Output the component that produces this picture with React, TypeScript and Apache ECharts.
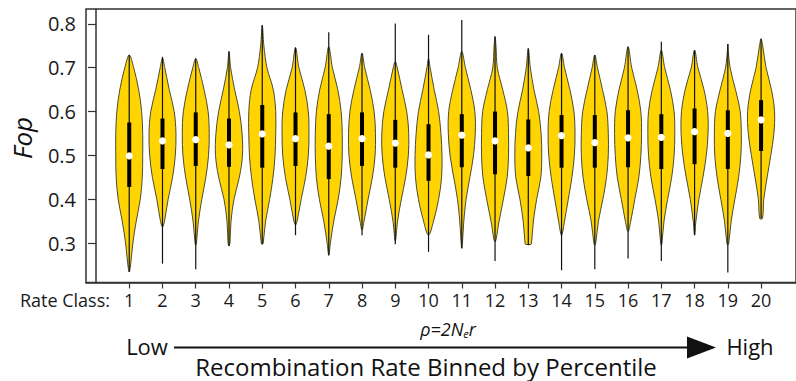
import React, { useEffect, useRef } from "react";
import * as echarts from "echarts";

// ---- data ----
const classes = [1, 2, 3, 4, 5, 6, 7, 8, 9, 10, 11, 12, 13, 14, 15, 16, 17, 18, 19, 20];
const whiskerMax = [0.729, 0.725, 0.721, 0.737, 0.797, 0.746, 0.781, 0.733, 0.801, 0.775, 0.809, 0.771, 0.744, 0.733, 0.729, 0.748, 0.759, 0.740, 0.754, 0.766];
const whiskerMin = [0.234, 0.253, 0.240, 0.293, 0.297, 0.318, 0.272, 0.318, 0.297, 0.280, 0.288, 0.259, 0.295, 0.238, 0.240, 0.265, 0.259, 0.318, 0.233, 0.356];
const shapeTop = [0.729, 0.722, 0.721, 0.737, 0.797, 0.746, 0.748, 0.733, 0.714, 0.721, 0.737, 0.771, 0.744, 0.733, 0.729, 0.748, 0.740, 0.740, 0.754, 0.766];
const shapeBottom = [0.234, 0.337, 0.295, 0.293, 0.297, 0.341, 0.272, 0.330, 0.305, 0.318, 0.288, 0.303, 0.297, 0.318, 0.295, 0.326, 0.295, 0.318, 0.295, 0.356];
const bottomFlat = [0, 0, 0, 0, 0, 0, 0, 0, 0, 0, 0, 0, 0.2, 0, 0, 0, 0, 0, 0, 0.1];
const q3 = [0.575, 0.584, 0.598, 0.584, 0.615, 0.598, 0.594, 0.598, 0.581, 0.571, 0.594, 0.600, 0.582, 0.592, 0.592, 0.603, 0.594, 0.607, 0.603, 0.626];
const q1 = [0.428, 0.469, 0.476, 0.474, 0.472, 0.476, 0.446, 0.476, 0.472, 0.442, 0.473, 0.457, 0.453, 0.472, 0.472, 0.473, 0.469, 0.480, 0.469, 0.510];
const medians = [0.499, 0.533, 0.536, 0.524, 0.549, 0.538, 0.521, 0.538, 0.528, 0.501, 0.546, 0.533, 0.517, 0.545, 0.529, 0.540, 0.541, 0.554, 0.550, 0.581];
// relative density (max = 1) at these Fop levels
const densityLevels = [0.80, 0.75, 0.70, 0.65, 0.60, 0.55, 0.50, 0.45, 0.40, 0.35, 0.30, 0.25];
const density1 = [0, 0, 0.33, 0.7, 0.92, 1, 1, 0.97, 0.82, 0.52, 0.27, 0.1];
const density2 = [0, 0, 0.17, 0.5, 0.87, 1, 0.95, 0.75, 0.42, 0.15, 0, 0];
const density3 = [0, 0, 0.22, 0.62, 0.92, 1, 0.95, 0.75, 0.45, 0.2, 0.05, 0];
const density4 = [0, 0, 0.12, 0.42, 0.77, 0.97, 1, 0.77, 0.37, 0.15, 0.07, 0];
const density5 = [0, 0.12, 0.35, 0.82, 1, 1, 0.95, 0.8, 0.55, 0.25, 0.07, 0];
const density6 = [0, 0, 0.25, 0.69, 0.95, 1, 0.95, 0.75, 0.42, 0.12, 0, 0];
const density7 = [0, 0, 0.27, 0.67, 0.92, 1, 1, 0.92, 0.7, 0.37, 0.12, 0];
const density8 = [0, 0, 0.2, 0.6, 0.9, 1, 0.97, 0.77, 0.45, 0.15, 0, 0];
const density9 = [0, 0, 0.15, 0.5, 0.85, 1, 0.97, 0.77, 0.45, 0.17, 0, 0];
const density10 = [0, 0, 0.12, 0.42, 0.75, 0.92, 1, 0.97, 0.75, 0.37, 0, 0];
const density11 = [0, 0, 0.27, 0.67, 0.97, 1, 0.87, 0.6, 0.32, 0.15, 0.05, 0];
const density12 = [0, 0.07, 0.17, 0.57, 0.92, 1, 1, 0.9, 0.62, 0.3, 0, 0];
const density13 = [0, 0, 0.15, 0.42, 0.77, 0.95, 1, 0.93, 0.62, 0.38, 0.24, 0];
const density14 = [0, 0, 0.22, 0.62, 0.92, 1, 0.95, 0.77, 0.5, 0.22, 0, 0];
const density15 = [0, 0, 0.2, 0.57, 0.9, 1, 1, 0.87, 0.6, 0.27, 0.07, 0];
const density16 = [0, 0, 0.27, 0.67, 0.95, 1, 0.95, 0.8, 0.5, 0.2, 0, 0];
const density17 = [0, 0, 0.25, 0.67, 0.95, 1, 0.95, 0.77, 0.47, 0.2, 0.05, 0];
const density18 = [0, 0, 0.25, 0.7, 0.97, 1, 0.87, 0.62, 0.32, 0.1, 0, 0];
const density19 = [0, 0, 0.17, 0.57, 0.92, 1, 0.97, 0.8, 0.52, 0.25, 0.07, 0];
const density20 = [0, 0.12, 0.37, 0.77, 1, 0.95, 0.72, 0.45, 0.2, 0, 0, 0];
const densities = [density1, density2, density3, density4, density5, density6, density7, density8, density9, density10,
  density11, density12, density13, density14, density15, density16, density17, density18, density19, density20];
const yTicks = [0.3, 0.4, 0.5, 0.6, 0.7, 0.8];

const FONT = "'Open Sans', 'Noto Sans', sans-serif";

export default function App() {
  const ref = useRef<HTMLDivElement>(null);
  useEffect(() => {
    if (!ref.current) return;
    const chart = echarts.init(ref.current, null, { renderer: "svg" });

    const renderItem = (params: any, api: any) => {
      const i = params.dataIndex;
      const c = classes[i];
      const cx = api.coord([c, 0.5])[0];
      const yOf = (v: number) => api.coord([c, v])[1];
      const half = api.size([1, 0])[0] * 0.405;
      const d = densities[i];
      const top = shapeTop[i];
      const bot = shapeBottom[i];
      const right: number[][] = [];
      right.push([cx, yOf(top)]);
      densityLevels.forEach((lv, k) => {
        if (lv < top && lv > bot) right.push([cx + d[k] * half, yOf(lv)]);
      });
      const pts: number[][] = [...right];
      if (bottomFlat[i] > 0) {
        pts.push([cx + bottomFlat[i] * half, yOf(bot)]);
        pts.push([cx - bottomFlat[i] * half, yOf(bot)]);
      } else {
        pts.push([cx, yOf(bot)]);
      }
      for (let k = right.length - 1; k >= 1; k--) {
        pts.push([2 * cx - right[k][0], right[k][1]]);
      }
      const bw = 4;
      return {
        type: "group",
        children: [
          {
            type: "polygon",
            shape: { points: pts, smooth: 0.35 },
            style: { fill: "#FFD400", stroke: "#4a4a3a", lineWidth: 1 },
          },
          {
            type: "line",
            shape: { x1: cx, y1: yOf(whiskerMax[i]), x2: cx, y2: yOf(whiskerMin[i]) },
            style: { stroke: "#111", lineWidth: 1.2 },
          },
          {
            type: "rect",
            shape: { x: cx - bw / 2, y: yOf(q3[i]), width: bw, height: yOf(q1[i]) - yOf(q3[i]) },
            style: { fill: "#000" },
          },
          {
            type: "circle",
            shape: { cx: cx, cy: yOf(medians[i]), r: 3.6 },
            style: { fill: "#fff" },
          },
        ],
      };
    };

    chart.setOption({
      animation: false,
      grid: {
        left: 86, top: 9, right: -2, bottom: 98.5,
        show: true, borderColor: "#333", borderWidth: 1.5, backgroundColor: "transparent",
      },
      xAxis: {
        type: "value", min: -0.3, max: 21.05,
        splitLine: { show: false },
        axisLine: { show: true, lineStyle: { color: "#333", width: 1.5 } },
        axisTick: { show: true, customValues: classes, length: 6, lineStyle: { color: "#333", width: 1.2 } },
        axisLabel: { customValues: classes, margin: 8, fontFamily: FONT, fontSize: 18, color: "#1a1a1a" },
      },
      yAxis: {
        type: "value", min: 0.21, max: 0.834,
        splitLine: { show: false },
        axisLine: { show: true, lineStyle: { color: "#333", width: 1.5 } },
        axisTick: { show: true, customValues: yTicks, length: 8, lineStyle: { color: "#333", width: 1.2 } },
        axisLabel: {
          customValues: yTicks, margin: 10, fontFamily: FONT, fontSize: 20, color: "#1a1a1a",
          formatter: (v: number) => v.toFixed(1),
        },
      },
      series: [
        {
          type: "custom",
          renderItem,
          data: classes.map((c, i) => [c, medians[i]]),
          clip: false,
        },
      ],
      graphic: [
        {
          type: "text", x: 22, y: 138, rotation: Math.PI / 2,
          style: { text: "Fop", font: `italic 26px ${FONT}`, fill: "#111", align: "center", verticalAlign: "middle" },
        },
        {
          type: "text", x: 110, y: 300,
          style: { text: "Rate Class:", font: `18px ${FONT}`, fill: "#1a1a1a", align: "right", verticalAlign: "middle" },
        },
        {
          type: "text", x: 448, y: 329,
          style: {
            text: "{a|ρ=2N}{s|e}{a|r}",
            align: "center", verticalAlign: "middle",
            rich: {
              a: { font: `italic 18px ${FONT}`, fill: "#111" },
              s: { font: `italic 11px ${FONT}`, fill: "#111", padding: [8, 0, 0, 0] },
            },
          },
        },
        {
          type: "text", x: 147, y: 346,
          style: { text: "Low", font: `22px ${FONT}`, fill: "#111", align: "center", verticalAlign: "middle" },
        },
        {
          type: "text", x: 750, y: 346,
          style: { text: "High", font: `22px ${FONT}`, fill: "#111", align: "center", verticalAlign: "middle" },
        },
        {
          type: "line", shape: { x1: 174, y1: 347.5, x2: 690, y2: 347.5 },
          style: { stroke: "#111", lineWidth: 2 },
        },
        {
          type: "polygon", shape: { points: [[687, 336.5], [716, 347.5], [687, 358.5]] },
          style: { fill: "#111" },
        },
        {
          type: "text", x: 426, y: 366,
          style: { text: "Recombination Rate Binned by Percentile", font: `24px ${FONT}`, fill: "#111", align: "center", verticalAlign: "middle" },
        },
      ],
    });
    return () => chart.dispose();
  }, []);
  return <div ref={ref} style={{ position: "fixed", left: 0, top: 0, width: 796, height: 381, background: "#fff" }} />;
}
